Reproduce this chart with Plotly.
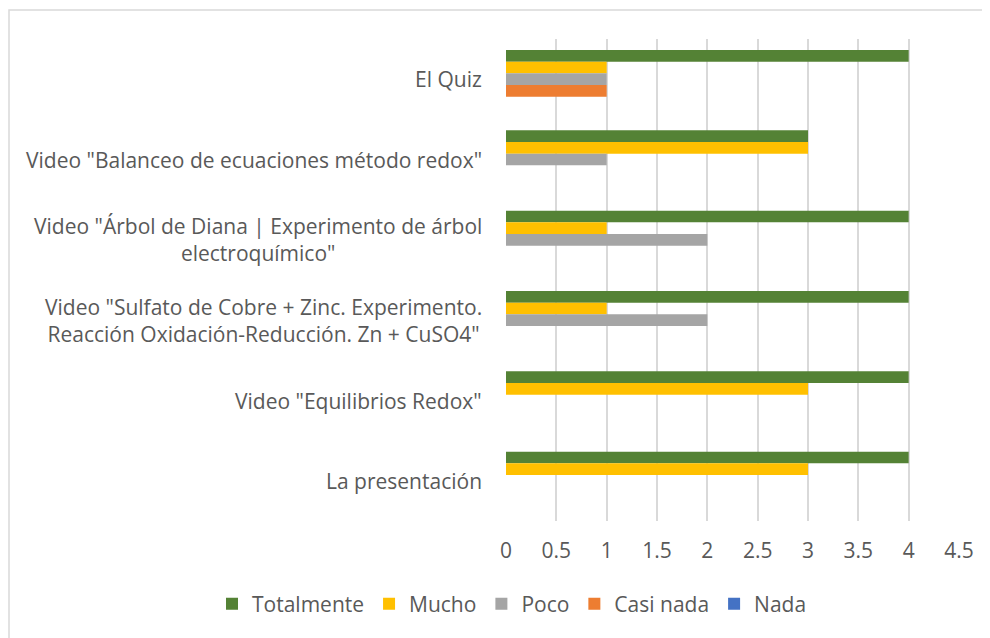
import plotly.graph_objects as go

# categories, top to bottom as shown
categories = [
    "El Quiz",
    'Video "Balanceo de ecuaciones método redox"',
    'Video "Árbol de Diana | Experimento de árbol<br>electroquímico"',
    'Video "Sulfato de Cobre + Zinc. Experimento.<br>Reacción Oxidación-Reducción. Zn + CuSO4"',
    'Video "Equilibrios Redox"',
    "La presentación",
]

totalmente = [4, 3, 4, 4, 4, 4]
mucho = [1, 3, 1, 1, 3, 3]
poco = [1, 1, 2, 2, 0, 0]
casi_nada = [1, 0, 0, 0, 0, 0]
nada = [0, 0, 0, 0, 0, 0]

series = [
    ("Totalmente", totalmente, "#548235"),
    ("Mucho", mucho, "#FFC000"),
    ("Poco", poco, "#A5A5A5"),
    ("Casi nada", casi_nada, "#ED7D31"),
    ("Nada", nada, "#4472C4"),
]

x_ticks = [0, 0.5, 1, 1.5, 2, 2.5, 3, 3.5, 4, 4.5]

FONT = "Open Sans"
TXT = "#595959"
FS = 21

# page puts the figure at (8, 8); work in screen pixels and subtract that
OFF = 8
W, H = 990 - OFF, 638 - OFF
L, R, T, B = 506 - OFF, 959 - OFF, 39 - OFF, 521 - OFF


def px_x(p):
    return (p - OFF - L) / (R - L)


def px_y(p):
    return (B - (p - OFF)) / (B - T)


fig = go.Figure()
for name, vals, color in series:
    fig.add_trace(go.Bar(
        y=categories,
        x=vals,
        name=name,
        orientation="h",
        marker=dict(color=color, line=dict(width=0)),
    ))

# category labels (centered multi-line, right aligned block like Excel)
for cat in categories:
    fig.add_annotation(
        x=0, xref="paper", y=cat, yref="y",
        text=cat, showarrow=False,
        xanchor="right", yanchor="middle", align="center",
        xshift=-22,
        font=dict(family=FONT, size=FS, color=TXT),
    )

# chart outline (top/left visible)
fig.add_shape(
    type="rect", xref="paper", yref="paper",
    x0=px_x(9), x1=px_x(1000), y0=px_y(660), y1=px_y(10),
    line=dict(color="#D9D9D9", width=1.5), layer="below",
)

fig.update_layout(
    width=W, height=H,
    margin=dict(l=L, r=W - R, t=T, b=H - B),
    paper_bgcolor="white", plot_bgcolor="white",
    barmode="group", bargap=0.274, bargroupgap=0,
    font=dict(family=FONT, size=FS, color=TXT),
    showlegend=True,
    legend=dict(
        orientation="h",
        x=px_x(212), xanchor="left",
        y=px_y(604), yanchor="middle",
        font=dict(family=FONT, size=FS, color=TXT),
    ),
)
fig.update_xaxes(
    range=[0, 4.5], tickvals=x_ticks,
    showgrid=True, gridcolor="#D9D9D9", gridwidth=1.5,
    zeroline=False, showline=False, ticks="",
    ticklabelstandoff=15,
    tickfont=dict(family=FONT, size=FS, color=TXT),
)
fig.update_yaxes(
    categoryorder="array", categoryarray=categories,
    autorange="reversed", showticklabels=False,
    showgrid=False, zeroline=False, showline=False, ticks="",
)

fig.write_html("out.html")
